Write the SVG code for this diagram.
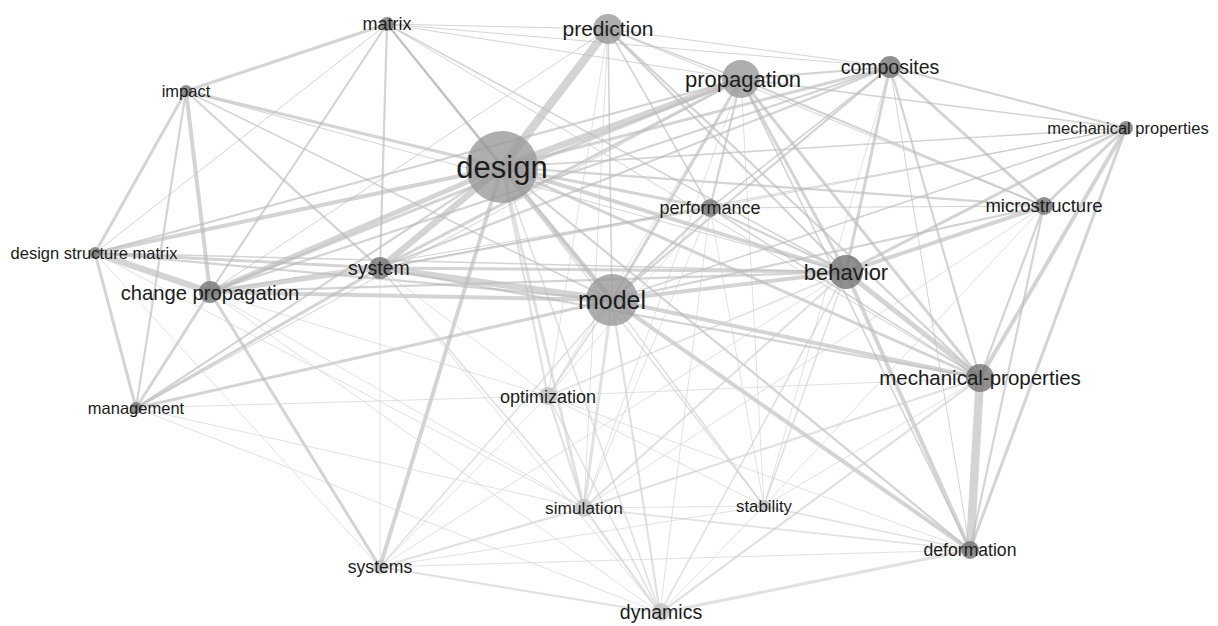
<svg xmlns="http://www.w3.org/2000/svg" width="1218" height="626" viewBox="0 0 1218 626">
<style>
.bg{fill:#ffffff}
#connectors line{stroke:#b9b9b9;stroke-opacity:0.62;stroke-linecap:round}
#connectors line.f{stroke:#cfcfcf;stroke-opacity:0.62}
.w1{stroke-width:1}
.w15{stroke-width:1.6}
.w2{stroke-width:2.2}
.w3{stroke-width:3}
.w4{stroke-width:4}
.w5{stroke-width:5}
.w6{stroke-width:6.5}
.w8{stroke-width:8.5}
.n{fill:#747474;fill-opacity:0.8}
.nl{fill:#979797;fill-opacity:0.78}
.nf{fill:#bdbdbd;fill-opacity:0.75}
text{font-family:"Liberation Sans",Arial,sans-serif;fill:#1c1c1c;text-anchor:middle}
</style>
<rect class="bg" x="0" y="0" width="1218" height="626"/>
<g id="connectors">
<!-- design -->
<line class="w8" x1="502" y1="167" x2="608" y2="29"/>
<line class="w6" x1="502" y1="167" x2="741" y2="79"/>
<line class="w2" x1="502" y1="167" x2="387" y2="24" style="stroke:#a8a8a8"/>
<line class="w3" x1="502" y1="167" x2="186" y2="91"/>
<line class="w4" x1="502" y1="167" x2="95" y2="253"/>
<line class="w5" x1="502" y1="167" x2="210" y2="292"/>
<line class="w6" x1="502" y1="167" x2="380" y2="268"/>
<line class="w5" x1="502" y1="167" x2="612" y2="300"/>
<line class="w3" x1="502" y1="167" x2="710" y2="208"/>
<line class="w4" x1="502" y1="167" x2="846" y2="272"/>
<line class="w3" x1="502" y1="167" x2="980" y2="378"/>
<line class="w2" x1="502" y1="167" x2="1044" y2="206"/>
<line class="w3" x1="502" y1="167" x2="890" y2="67"/>
<line class="w15" x1="502" y1="167" x2="1126" y2="128"/>
<line class="w2" x1="502" y1="167" x2="136" y2="408"/>
<line class="w4" x1="502" y1="167" x2="380" y2="567"/>
<line class="w2 f" x1="502" y1="167" x2="548" y2="396"/>
<line class="w3 f" x1="502" y1="167" x2="584" y2="508"/>
<line class="w15 f" x1="502" y1="167" x2="660" y2="613"/>
<line class="w15 f" x1="502" y1="167" x2="764" y2="506"/>
<line class="w2" x1="502" y1="167" x2="970" y2="550"/>
<!-- model -->
<line class="w6" x1="612" y1="300" x2="380" y2="268"/>
<line class="w4" x1="612" y1="300" x2="210" y2="292"/>
<line class="w2" x1="612" y1="300" x2="95" y2="253"/>
<line class="w3" x1="612" y1="300" x2="136" y2="408"/>
<line class="w15" x1="612" y1="300" x2="186" y2="91"/>
<line class="w15" x1="612" y1="300" x2="387" y2="24"/>
<line class="w15" x1="612" y1="300" x2="608" y2="29"/>
<line class="w3" x1="612" y1="300" x2="741" y2="79"/>
<line class="w2" x1="612" y1="300" x2="890" y2="67"/>
<line class="w2" x1="612" y1="300" x2="710" y2="208"/>
<line class="w4" x1="612" y1="300" x2="846" y2="272"/>
<line class="w2" x1="612" y1="300" x2="1044" y2="206"/>
<line class="w15" x1="612" y1="300" x2="1126" y2="128"/>
<line class="w4" x1="612" y1="300" x2="980" y2="378"/>
<line class="w4" x1="612" y1="300" x2="970" y2="550"/>
<line class="w15 f" x1="612" y1="300" x2="764" y2="506"/>
<line class="w3 f" x1="612" y1="300" x2="584" y2="508"/>
<line class="w2 f" x1="612" y1="300" x2="660" y2="613"/>
<line class="w2 f" x1="612" y1="300" x2="548" y2="396"/>
<line class="w15 f" x1="612" y1="300" x2="380" y2="567"/>
<!-- propagation -->
<line class="w3" x1="741" y1="79" x2="210" y2="292"/>
<line class="w3" x1="741" y1="79" x2="380" y2="268"/>
<line class="w2" x1="741" y1="79" x2="95" y2="253"/>
<line class="w2" x1="741" y1="79" x2="710" y2="208"/>
<line class="w3" x1="741" y1="79" x2="846" y2="272"/>
<line class="w3" x1="741" y1="79" x2="980" y2="378"/>
<line class="w2" x1="741" y1="79" x2="1044" y2="206"/>
<line class="w2" x1="741" y1="79" x2="890" y2="67"/>
<line class="w15" x1="741" y1="79" x2="608" y2="29"/>
<line class="w1" x1="741" y1="79" x2="387" y2="24"/>
<line class="w15" x1="741" y1="79" x2="970" y2="550"/>
<line class="w1 f" x1="741" y1="79" x2="584" y2="508"/>
<line class="w1 f" x1="741" y1="79" x2="548" y2="396"/>
<line class="w1 f" x1="741" y1="79" x2="764" y2="506"/>
<line class="w1" x1="741" y1="79" x2="136" y2="408"/>
<line class="w15" x1="741" y1="79" x2="1126" y2="128"/>
<!-- prediction -->
<line class="w15" x1="608" y1="29" x2="710" y2="208"/>
<line class="w2" x1="608" y1="29" x2="846" y2="272"/>
<line class="w2" x1="608" y1="29" x2="980" y2="378"/>
<line class="w1" x1="608" y1="29" x2="387" y2="24"/>
<line class="w1" x1="608" y1="29" x2="890" y2="67"/>
<line class="w1 f" x1="608" y1="29" x2="584" y2="508"/>
<line class="w1 f" x1="608" y1="29" x2="548" y2="396"/>
<line class="w1" x1="608" y1="29" x2="1044" y2="206"/>
<line class="w1" x1="608" y1="29" x2="210" y2="292"/>
<!-- composites -->
<line class="w3" x1="890" y1="67" x2="846" y2="272"/>
<line class="w3" x1="890" y1="67" x2="1044" y2="206"/>
<line class="w2" x1="890" y1="67" x2="1126" y2="128"/>
<line class="w2" x1="890" y1="67" x2="980" y2="378"/>
<line class="w1" x1="890" y1="67" x2="970" y2="550"/>
<line class="w15" x1="890" y1="67" x2="710" y2="208"/>
<line class="w2" x1="890" y1="67" x2="380" y2="268"/>
<line class="w1" x1="890" y1="67" x2="387" y2="24"/>
<line class="w1 f" x1="890" y1="67" x2="764" y2="506"/>
<line class="w2" x1="890" y1="67" x2="210" y2="292"/>
<!-- mechanical properties -->
<line class="w3" x1="1126" y1="128" x2="1044" y2="206"/>
<line class="w4" x1="1126" y1="128" x2="980" y2="378"/>
<line class="w3" x1="1126" y1="128" x2="970" y2="550"/>
<line class="w3" x1="1126" y1="128" x2="846" y2="272"/>
<line class="w1" x1="1126" y1="128" x2="710" y2="208"/>
<line class="w1" x1="1126" y1="128" x2="380" y2="268"/>
<!-- microstructure -->
<line class="w2" x1="1044" y1="206" x2="980" y2="378"/>
<line class="w4" x1="1044" y1="206" x2="846" y2="272"/>
<line class="w2" x1="1044" y1="206" x2="970" y2="550"/>
<line class="w1 f" x1="1044" y1="206" x2="584" y2="508"/>
<line class="w1 f" x1="1044" y1="206" x2="764" y2="506"/>
<line class="w1" x1="1044" y1="206" x2="710" y2="208"/>
<!-- behavior -->
<line class="w3" x1="846" y1="272" x2="380" y2="268"/>
<line class="w2" x1="846" y1="272" x2="210" y2="292"/>
<line class="w15" x1="846" y1="272" x2="95" y2="253"/>
<line class="w15" x1="846" y1="272" x2="387" y2="24"/>
<line class="w2" x1="846" y1="272" x2="710" y2="208"/>
<line class="w5" x1="846" y1="272" x2="980" y2="378"/>
<line class="w4" x1="846" y1="272" x2="970" y2="550"/>
<line class="w2 f" x1="846" y1="272" x2="584" y2="508"/>
<line class="w15 f" x1="846" y1="272" x2="764" y2="506"/>
<line class="w15 f" x1="846" y1="272" x2="548" y2="396"/>
<line class="w15 f" x1="846" y1="272" x2="660" y2="613"/>
<line class="w1 f" x1="846" y1="272" x2="380" y2="567"/>
<line class="w1" x1="846" y1="272" x2="186" y2="91"/>
<!-- mechanical-properties -->
<line class="w8" x1="980" y1="378" x2="970" y2="550"/>
<line class="w2" x1="980" y1="378" x2="380" y2="268"/>
<line class="w15" x1="980" y1="378" x2="710" y2="208"/>
<line class="w2 f" x1="980" y1="378" x2="584" y2="508"/>
<line class="w1 f" x1="980" y1="378" x2="764" y2="506"/>
<line class="w2 f" x1="980" y1="378" x2="660" y2="613"/>
<line class="w1 f" x1="980" y1="378" x2="548" y2="396"/>
<line class="w1" x1="980" y1="378" x2="387" y2="24"/>
<!-- deformation -->
<line class="w3 f" x1="970" y1="550" x2="660" y2="613"/>
<line class="w15 f" x1="970" y1="550" x2="584" y2="508"/>
<line class="w15 f" x1="970" y1="550" x2="764" y2="506"/>
<line class="w1 f" x1="970" y1="550" x2="380" y2="567"/>
<line class="w1 f" x1="970" y1="550" x2="548" y2="396"/>
<!-- performance -->
<line class="w2" x1="710" y1="208" x2="380" y2="268"/>
<line class="w1 f" x1="710" y1="208" x2="548" y2="396"/>
<line class="w1 f" x1="710" y1="208" x2="584" y2="508"/>
<line class="w1 f" x1="710" y1="208" x2="660" y2="613"/>
<line class="w1 f" x1="710" y1="208" x2="764" y2="506"/>
<line class="w1" x1="710" y1="208" x2="210" y2="292"/>
<!-- system -->
<line class="w5" x1="380" y1="268" x2="210" y2="292"/>
<line class="w3" x1="380" y1="268" x2="95" y2="253"/>
<line class="w2" x1="380" y1="268" x2="186" y2="91"/>
<line class="w3" x1="380" y1="268" x2="136" y2="408"/>
<line class="w2" x1="380" y1="268" x2="387" y2="24"/>
<line class="w1 f" x1="380" y1="268" x2="380" y2="567"/>
<line class="w15 f" x1="380" y1="268" x2="584" y2="508"/>
<line class="w1 f" x1="380" y1="268" x2="548" y2="396"/>
<line class="w1 f" x1="380" y1="268" x2="660" y2="613"/>
<!-- change propagation -->
<line class="w6" x1="210" y1="292" x2="95" y2="253"/>
<line class="w4" x1="210" y1="292" x2="186" y2="91"/>
<line class="w2" x1="210" y1="292" x2="387" y2="24"/>
<line class="w3" x1="210" y1="292" x2="136" y2="408"/>
<line class="w3" x1="210" y1="292" x2="380" y2="567"/>
<line class="w1 f" x1="210" y1="292" x2="584" y2="508"/>
<line class="w1 f" x1="210" y1="292" x2="660" y2="613"/>
<line class="w1 f" x1="210" y1="292" x2="548" y2="396"/>
<!-- design structure matrix -->
<line class="w3" x1="95" y1="253" x2="186" y2="91"/>
<line class="w3" x1="95" y1="253" x2="136" y2="408"/>
<line class="w1 f" x1="95" y1="253" x2="584" y2="508"/>
<line class="w1 f" x1="95" y1="253" x2="380" y2="567"/>
<line class="w1" x1="95" y1="253" x2="387" y2="24"/>
<!-- impact -->
<line class="w3" x1="186" y1="91" x2="387" y2="24"/>
<line class="w2" x1="186" y1="91" x2="136" y2="408"/>
<!-- management -->
<line class="w1 f" x1="136" y1="408" x2="548" y2="396"/>
<line class="w1 f" x1="136" y1="408" x2="584" y2="508"/>
<line class="w1 f" x1="136" y1="408" x2="660" y2="613"/>
<!-- lower cluster -->
<line class="w2 f" x1="548" y1="396" x2="584" y2="508"/>
<line class="w15 f" x1="548" y1="396" x2="660" y2="613"/>
<line class="w1 f" x1="548" y1="396" x2="380" y2="567"/>
<line class="w1 f" x1="548" y1="396" x2="764" y2="506"/>
<line class="w2 f" x1="584" y1="508" x2="660" y2="613"/>
<line class="w2 f" x1="584" y1="508" x2="380" y2="567"/>
<line class="w1 f" x1="584" y1="508" x2="764" y2="506"/>
<line class="w2 f" x1="380" y1="567" x2="660" y2="613"/>
<line class="w1 f" x1="764" y1="506" x2="660" y2="613"/>
<line class="w1 f" x1="764" y1="506" x2="380" y2="567"/>
</g>
<g id="node-design"><circle class="nl" cx="502" cy="167" r="36"/><text x="502" y="178" font-size="31">design</text></g>
<g id="node-model"><circle class="nl" cx="612" cy="300" r="26"/><text x="612" y="309" font-size="25">model</text></g>
<g id="node-propagation"><circle class="nl" cx="741" cy="79" r="19"/><text x="743" y="87" font-size="22">propagation</text></g>
<g id="node-prediction"><circle class="nl" cx="608" cy="29" r="15"/><text x="608" y="36" font-size="21">prediction</text></g>
<g id="node-behavior"><circle class="n" cx="846" cy="272" r="17"/><text x="846" y="280" font-size="22">behavior</text></g>
<g id="node-mechanical-properties"><circle class="n" cx="980" cy="378" r="14"/><text x="980" y="385" font-size="20.5">mechanical-properties</text></g>
<g id="node-composites"><circle class="n" cx="890" cy="67" r="11"/><text x="890" y="74" font-size="19.5">composites</text></g>
<g id="node-mechanical-properties2"><circle class="n" cx="1126" cy="128" r="7"/><text x="1128" y="134" font-size="16.5">mechanical properties</text></g>
<g id="node-microstructure"><circle class="n" cx="1044" cy="206" r="9"/><text x="1044" y="212" font-size="18.5">microstructure</text></g>
<g id="node-performance"><circle class="n" cx="710" cy="208" r="9"/><text x="710" y="214" font-size="18">performance</text></g>
<g id="node-matrix"><circle class="n" cx="387" cy="24" r="7"/><text x="387" y="30" font-size="18">matrix</text></g>
<g id="node-impact"><circle class="n" cx="186" cy="91" r="6"/><text x="186" y="97" font-size="16.5">impact</text></g>
<g id="node-design-structure-matrix"><circle class="n" cx="95" cy="253" r="6"/><text x="94" y="259" font-size="16.5">design structure matrix</text></g>
<g id="node-system"><circle class="n" cx="380" cy="268" r="11"/><text x="379" y="275" font-size="19.5">system</text></g>
<g id="node-change-propagation"><circle class="n" cx="210" cy="292" r="11"/><text x="210" y="300" font-size="20.2">change propagation</text></g>
<g id="node-management"><circle class="n" cx="136" cy="408" r="6"/><text x="136" y="414" font-size="16.5">management</text></g>
<g id="node-optimization"><circle class="nf" cx="548" cy="396" r="9"/><text x="548" y="403" font-size="18">optimization</text></g>
<g id="node-simulation"><circle class="nf" cx="584" cy="508" r="9"/><text x="584" y="514" font-size="17.3">simulation</text></g>
<g id="node-stability"><circle class="nf" cx="764" cy="506" r="6"/><text x="764" y="512" font-size="16.8">stability</text></g>
<g id="node-deformation"><circle class="n" cx="970" cy="550" r="9"/><text x="970" y="556" font-size="17.6">deformation</text></g>
<g id="node-systems"><circle class="nf" cx="380" cy="567" r="7"/><text x="380" y="573" font-size="17.6">systems</text></g>
<g id="node-dynamics"><circle class="nf" cx="661" cy="612" r="9"/><text x="661" y="619" font-size="19.5">dynamics</text></g>
</svg>
